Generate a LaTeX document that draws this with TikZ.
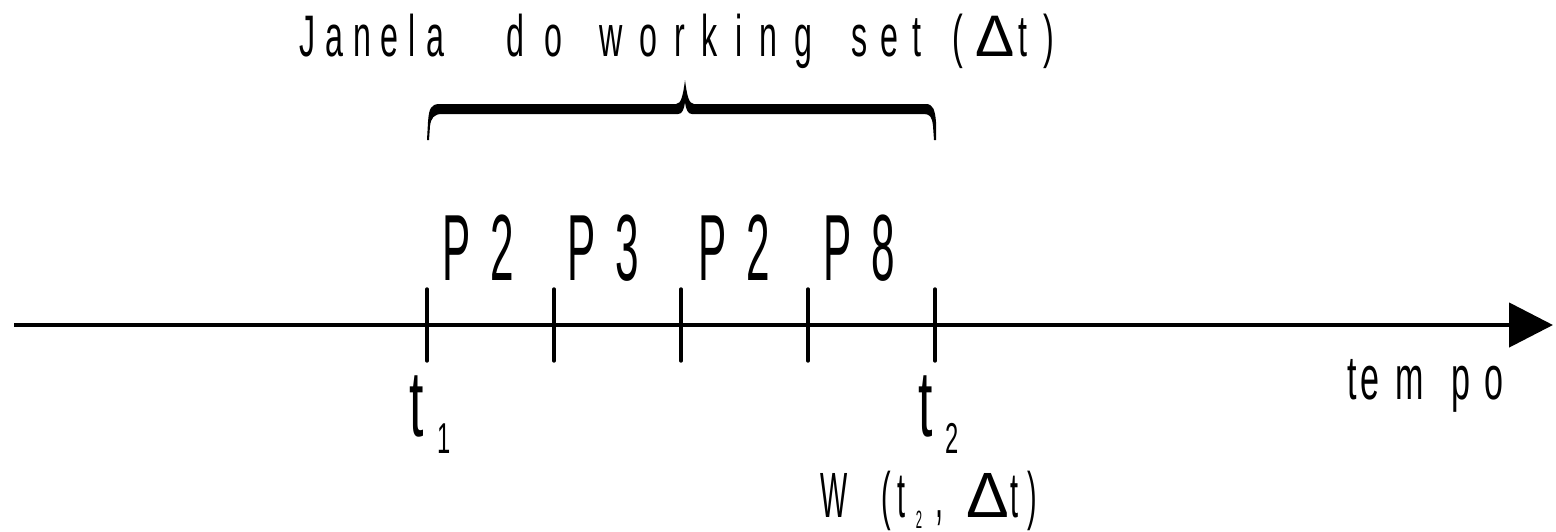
\documentclass[tikz,border=0pt]{standalone}
\usepackage{fontspec}
\setmainfont{Liberation Sans}
\newfontfamily\cnd[FakeStretch=0.55]{Liberation Sans}
\newfontfamily\cnx[FakeStretch=0.45]{Liberation Sans}
\newfontfamily\wide{Liberation Sans}
\usetikzlibrary{arrows.meta}
\ExplSyntaxOn
\NewDocumentCommand\spread{m m}{\tl_map_inline:nn {#2} {##1\hspace{#1}}}
\ExplSyntaxOff
\tikzset{
  lbl/.style={inner sep=0pt, outer sep=0pt, anchor=base west},
  ttl/.style={lbl, font=\cnd\fontsize{29.3}{32}\selectfont},
  pg/.style={lbl, font=\cnx\fontsize{47}{50}\selectfont},
  tm/.style={lbl, font=\cnd\fontsize{47}{50}\selectfont},
  axisline/.style={line width=2.3pt, -{Triangle[length=22pt,width=22pt]}},
  tickline/.style={line width=1.7pt, line cap=round},
}
\begin{document}
\begin{tikzpicture}[x=0.5pt,y=-0.5pt]
\useasboundingbox (0,0) rectangle (1556,531);
% axis
\coordinate (start) at (14,325);
\coordinate (end) at (1553,325);
\draw[axisline] (start) -- (end);
% ticks
\foreach \i/\x in {1/427,2/554,3/681,4/808,5/935}{
  \coordinate (k\i) at (\x,325);
  \draw[tickline] (\x,289) -- (\x,361);
}
% brace
\fill (427,140) -- (428,122) .. controls (429,108) and (431,104) .. (440,104)
  -- (676,104) .. controls (681,104) and (683,96) .. (685,80)
  .. controls (687,96) and (689,104) .. (694,104)
  -- (926,104) .. controls (933,104) and (935,110) .. (936,122)
  -- (936,140) -- (934,140) -- (933,126)
  .. controls (932,117) and (930,114) .. (924,114)
  -- (692,114) .. controls (688,114) and (686,110) .. (685,102)
  .. controls (684,110) and (682,114) .. (678,114)
  -- (442,114) .. controls (434,114) and (431,118) .. (430,126)
  -- (429,140) -- cycle;
% title
\node[ttl] (title1) at (299,56) {\spread{5pt}{Janela}};
\node[ttl] (title2) at (506,56) {\spread{10.5pt}{do}};
\node[ttl] (title3) at (599,56) {\spread{8.5pt}{working}};
\node[ttl] (title4) at (851,56) {\spread{6.75pt}{set}};
\node[ttl] (title5) at (952,56) {(\hspace{6.5pt}{\wide Δ}\hspace{2pt}t\hspace{8pt})};
% pages
\node[pg] (p1) at (442,280) {P\hspace{10pt}2};
\node[pg] (p2) at (567,280) {P\hspace{10pt}3};
\node[pg] (p3) at (698,280) {P\hspace{10pt}2};
\node[pg] (p4) at (823,280) {P\hspace{10pt}8};
% times
\node[tm] (t1) at (409,436) {t\hspace{7.3pt}\raisebox{-8.5pt}{\fontsize{21.6}{24}\selectfont 1}};
\node[tm] (t2) at (918,436) {t\hspace{6.5pt}\raisebox{-8.5pt}{\fontsize{21.6}{24}\selectfont 2}};
% tempo
\node[lbl, font=\cnd\fontsize{31}{34}\selectfont] (tempo) at (1347,399) {t\hspace{2pt}e\hspace{8pt}m\hspace{14pt}p\hspace{7pt}o};
% W
\node[lbl, font=\cnx\fontsize{32}{36}\selectfont] (w) at (820,517) {W\hspace{17pt}(\hspace{3.5pt}t\hspace{5pt}\raisebox{-5.5pt}{\fontsize{12.5}{14}\selectfont 2}\hspace{6.5pt},\hspace{11.5pt}{\wide Δ}\hspace{1pt}t\hspace{4.5pt})};
\end{tikzpicture}
\end{document}
